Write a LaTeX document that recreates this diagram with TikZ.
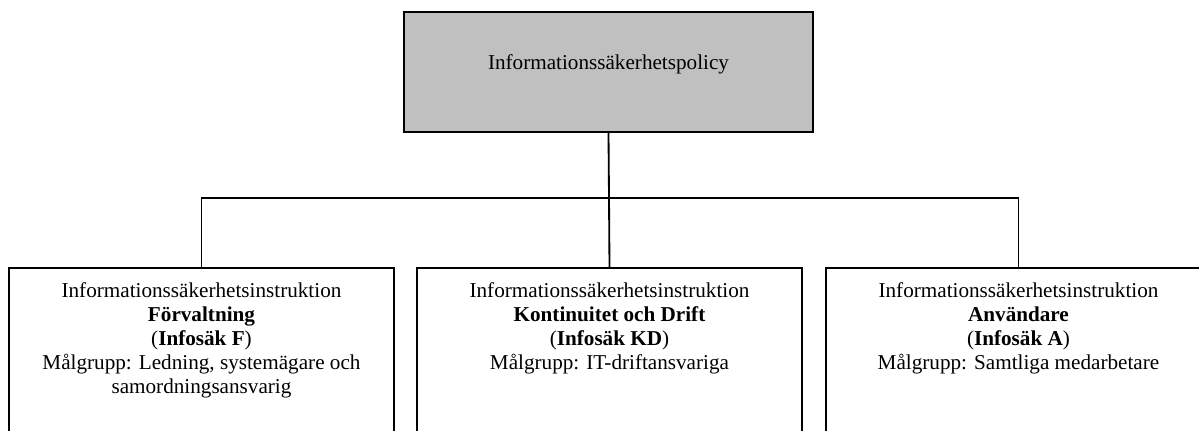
\documentclass[tikz,border=0pt]{standalone}
\usepackage{fontspec}
\setmainfont{Liberation Serif}
\usepackage{tikz}

\definecolor{policygray}{RGB}{192,192,192}

\begin{document}
\begin{tikzpicture}[x=0.6pt,y=-0.6pt,
		box/.style={draw,line width=1.2pt,minimum width=231pt,minimum height=120pt,anchor=north,inner sep=0pt},
		boxtext/.style={anchor=north,align=center,font=\fontsize{12.7}{14.3}\selectfont},
		link/.style={line width=1.1pt}]
			\clip (0,0) rectangle (1199,430);
			\node[box,fill=policygray,minimum width=245.4pt,minimum height=72pt] (policy) at (608.5,11) {};
			\node[boxtext] (policytext) at (608.5,49) {Informationssäkerhetspolicy};
			\node[box] (fv) at (201.5,267) {};
			\node[box] (kd) at (609.5,267) {};
			\node[box] (an) at (1018.5,267) {};
			\node[boxtext] (fvtext) at (201.5,277) {Informationssäkerhetsinstruktion\\ \textbf{Förvaltning}\\ (\textbf{Infosäk F})\\ Målgrupp: Ledning, systemägare och\\ samordningsansvarig};
			\node[boxtext] (kdtext) at (609.5,277) {Informationssäkerhetsinstruktion\\ \textbf{Kontinuitet och Drift}\\ (\textbf{Infosäk KD})\\ Målgrupp: IT-driftansvariga};
			\node[boxtext] (antext) at (1018.5,277) {Informationssäkerhetsinstruktion\\ \textbf{Användare}\\ (\textbf{Infosäk A})\\ Målgrupp: Samtliga medarbetare};
			% branch point below the policy box
			\coordinate (hub) at (609,198);
			\draw[link] (policy.south) -- (hub);
			\draw[link] (fv.north) |- (hub) -| (an.north);
			\draw[link] (hub) -- (kd.north);
		\end{tikzpicture}
\end{document}
